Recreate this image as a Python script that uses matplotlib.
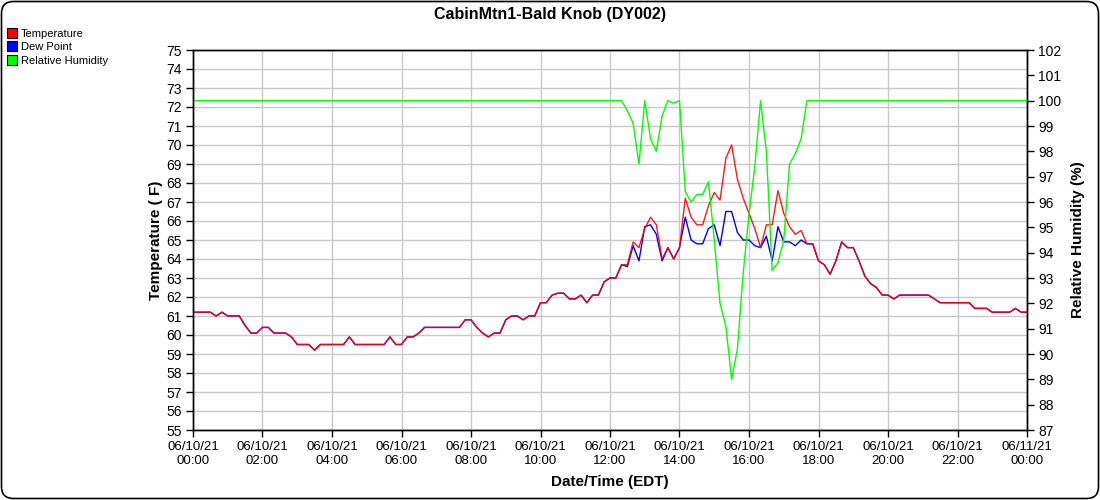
#!/usr/bin/env python3
# plot.py - CabinMtn1-Bald Knob (DY002) station chart
import numpy as np
import pandas as pd
import matplotlib
matplotlib.use("Agg")
import matplotlib.pyplot as plt
import matplotlib.dates as mdates
from matplotlib.lines import Line2D
from matplotlib.patches import FancyBboxPatch
from matplotlib.transforms import IdentityTransform

plt.rcParams['font.family'] = ['Liberation Sans', 'DejaVu Sans']

title = "CabinMtn1-Bald Knob (DY002)"
series_names = ["Temperature", "Dew Point", "Relative Humidity"]

# 10 minute readings, 06/10/21 00:00 .. 06/11/21 00:00
times = pd.date_range("2021-06-10 00:00", "2021-06-11 00:00", freq="10min")

temp_f = [
    61.2, 61.2, 61.2, 61.2, 61.0, 61.2, 61.0, 61.0, 61.0, 60.5, 60.1, 60.1,  # 00:00
    60.4, 60.4, 60.1, 60.1, 60.1, 59.9, 59.5, 59.5, 59.5, 59.2, 59.5, 59.5,  # 02:00
    59.5, 59.5, 59.5, 59.9, 59.5, 59.5, 59.5, 59.5, 59.5, 59.5, 59.9, 59.5,  # 04:00
    59.5, 59.9, 59.9, 60.1, 60.4, 60.4, 60.4, 60.4, 60.4, 60.4, 60.4, 60.8,  # 06:00
    60.8, 60.4, 60.1, 59.9, 60.1, 60.1, 60.8, 61.0, 61.0, 60.8, 61.0, 61.0,  # 08:00
    61.7, 61.7, 62.1, 62.2, 62.2, 61.9, 61.9, 62.1, 61.7, 62.1, 62.1, 62.8,  # 10:00
    63.0, 63.0, 63.7, 63.7, 64.9, 64.6, 65.6, 66.2, 65.8, 64.0, 64.6, 64.0,  # 12:00
    64.6, 67.2, 66.2, 65.8, 65.8, 66.8, 67.5, 67.1, 69.3, 70.0, 68.2, 67.2,  # 14:00
    66.4, 65.6, 64.6, 65.8, 65.8, 67.6, 66.4, 65.7, 65.3, 65.5, 64.8, 64.8,  # 16:00
    63.9, 63.7, 63.2, 63.9, 64.9, 64.6, 64.6, 63.9, 63.1, 62.7, 62.5, 62.1,  # 18:00
    62.1, 61.9, 62.1, 62.1, 62.1, 62.1, 62.1, 62.1, 61.9, 61.7, 61.7, 61.7,  # 20:00
    61.7, 61.7, 61.7, 61.4, 61.4, 61.4, 61.2, 61.2, 61.2, 61.2, 61.4, 61.2,  # 22:00
    61.2,
]

dewpt_f = [
    61.2, 61.2, 61.2, 61.2, 61.0, 61.2, 61.0, 61.0, 61.0, 60.5, 60.1, 60.1,  # 00:00
    60.4, 60.4, 60.1, 60.1, 60.1, 59.9, 59.5, 59.5, 59.5, 59.2, 59.5, 59.5,  # 02:00
    59.5, 59.5, 59.5, 59.9, 59.5, 59.5, 59.5, 59.5, 59.5, 59.5, 59.9, 59.5,  # 04:00
    59.5, 59.9, 59.9, 60.1, 60.4, 60.4, 60.4, 60.4, 60.4, 60.4, 60.4, 60.8,  # 06:00
    60.8, 60.4, 60.1, 59.9, 60.1, 60.1, 60.8, 61.0, 61.0, 60.8, 61.0, 61.0,  # 08:00
    61.7, 61.7, 62.1, 62.2, 62.2, 61.9, 61.9, 62.1, 61.7, 62.1, 62.1, 62.8,  # 10:00
    63.0, 63.0, 63.7, 63.6, 64.7, 63.9, 65.7, 65.8, 65.3, 63.9, 64.6, 64.0,  # 12:00
    64.6, 66.2, 65.0, 64.8, 64.8, 65.6, 65.8, 64.7, 66.5, 66.5, 65.4, 65.0,  # 14:00
    65.0, 64.7, 64.6, 65.2, 63.9, 65.7, 64.9, 64.9, 64.7, 65.0, 64.8, 64.8,  # 16:00
    63.9, 63.7, 63.2, 63.9, 64.9, 64.6, 64.6, 63.9, 63.1, 62.7, 62.5, 62.1,  # 18:00
    62.1, 61.9, 62.1, 62.1, 62.1, 62.1, 62.1, 62.1, 61.9, 61.7, 61.7, 61.7,  # 20:00
    61.7, 61.7, 61.7, 61.4, 61.4, 61.4, 61.2, 61.2, 61.2, 61.2, 61.4, 61.2,  # 22:00
    61.2,
]

# saturated (100 %) until 12:30 and again after 17:40
rh_pct = ([100.0] * 75 +
          [99.6, 99.1, 97.5, 100.0, 98.5, 98.0, 99.4, 100.0, 99.9, 100.0,
           96.4, 96.0, 96.3, 96.3, 96.8, 94.5, 92.0, 91.1, 89.0, 90.2,
           93.2, 95.5, 97.4, 100.0, 98.0, 93.3, 93.6, 94.5, 97.5, 97.9, 98.5] +
          [100.0] * 39)

colors = ['#ff0000', '#0000ff', '#00ff00']
grid_gray = '#c8c8c8'

fig = plt.figure(figsize=(11, 5), dpi=100)
ax = fig.add_axes([193 / 1100, 70 / 500, 834 / 1100, 380 / 500])

ax.plot(times, dewpt_f, color=colors[1], lw=1.0, zorder=3)
ax.plot(times, temp_f, color=colors[0], lw=1.0, alpha=0.9, zorder=4)

ax2 = ax.twinx()
ax2.plot(times, rh_pct, color=colors[2], lw=1.0)

ax.set_xlim(times[0], times[-1])
ax.set_ylim(55, 75)
ax.set_yticks(np.arange(55, 76, 1))
ax2.set_ylim(87, 102)
ax2.set_yticks(np.arange(87, 103, 1))

ax.xaxis.set_major_locator(mdates.HourLocator(byhour=range(0, 24, 2)))
ax.xaxis.set_major_formatter(mdates.DateFormatter('%m/%d/%y\n%H:%M'))

ax.grid(True, color=grid_gray, lw=1.0)
ax.set_axisbelow(True)

for a in (ax, ax2):
    a.tick_params(axis='both', length=5, width=1, color='black', labelsize=10, pad=3)
    for side in ('left', 'right', 'bottom', 'top'):
        a.spines[side].set_color('black')
        a.spines[side].set_linewidth(1.0)
ax.tick_params(axis='x', labelsize=9.5)

ax.set_xlabel("Date/Time (EDT)", fontsize=11, fontweight='bold', labelpad=6)
ax.set_ylabel("Temperature ( F)", fontsize=11, fontweight='bold', labelpad=2)
ax2.set_ylabel("Relative Humidity (%)", fontsize=11, fontweight='bold', labelpad=7)

fig.text(0.5, 0.972, title, ha='center', va='center', fontsize=11.5, fontweight='bold')

handles = [Line2D([], [], marker='s', linestyle='none', markersize=6.5,
                  markerfacecolor=c, markeredgecolor='black', markeredgewidth=0.8)
           for c in colors]
fig.legend(handles, series_names, loc='upper left', bbox_to_anchor=(0.007, 0.942),
           frameon=False, fontsize=8, handlelength=0.8, handletextpad=0.4,
           labelspacing=0.3, borderpad=0, borderaxespad=0)

# rounded outer frame
frame = FancyBboxPatch((1.5, 1.5), 1097, 497, boxstyle="round,pad=0,rounding_size=12",
                       transform=IdentityTransform(), fill=False, ec='black', lw=1.2)
fig.patches.append(frame)

fig.savefig("out.png", dpi=100)
plt.close(fig)
